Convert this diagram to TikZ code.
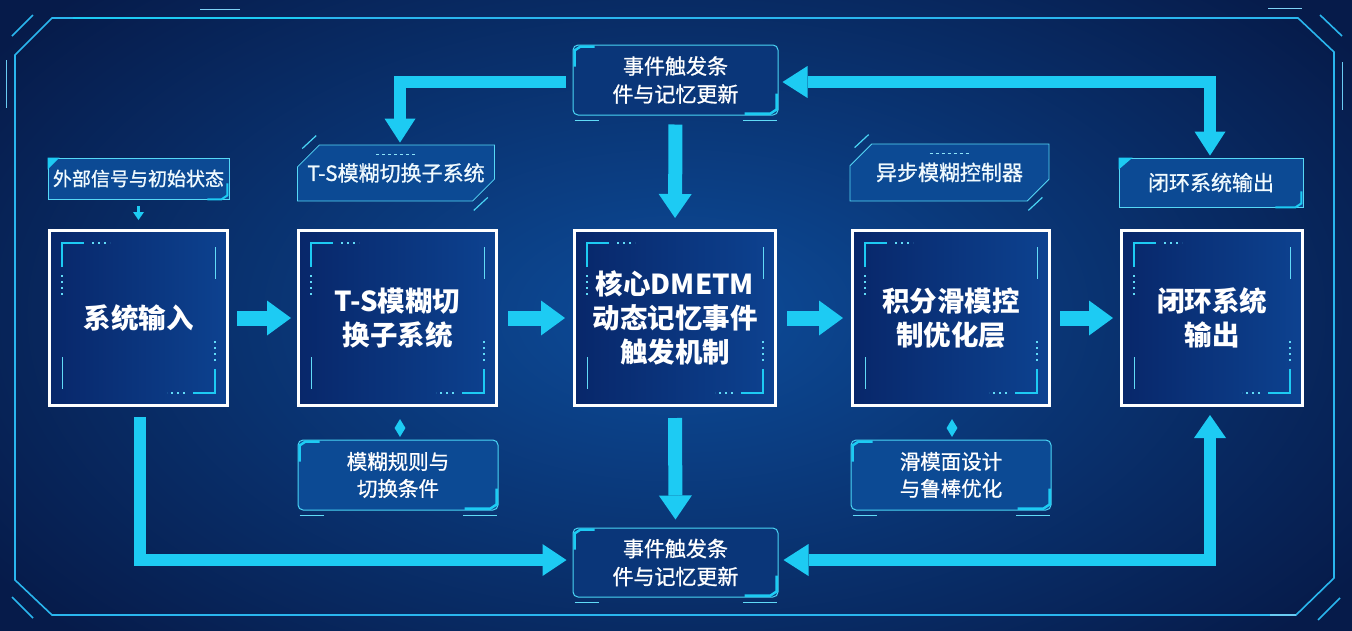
\documentclass[tikz,border=0pt]{standalone}
\usepackage{fontspec}
\setmainfont{Noto Sans CJK SC}
\newfontfamily\lblfont{Noto Sans CJK SC}[FakeBold=0.9]
\usetikzlibrary{arrows.meta,shapes.misc,shapes.geometric,calc}
\definecolor{bgc}{HTML}{0D4C9A}
\definecolor{bgo}{HTML}{061B4A}
\definecolor{cy}{HTML}{1DCBF3}
\definecolor{frm}{HTML}{2AB6EE}
\definecolor{boxa}{HTML}{08276A}
\definecolor{boxb}{HTML}{0D4290}
\definecolor{lbl}{HTML}{0C4A94}
\definecolor{evb}{HTML}{0A3679}
\tikzset{
  mainbox/.style={draw=white, line width=3pt, left color=boxa, right color=boxb,
    text=white, font=\bfseries\fontsize{27.5}{34}\selectfont, align=center, inner sep=0pt},
  lblbox/.style={draw=cy!75!white, line width=0.8pt, fill=lbl, text=white!94!cyan,
    font=\lblfont\fontsize{21}{26}\selectfont, align=center, inner sep=0pt},
  evbox/.style={draw=cy!80!white, line width=1pt, fill=evb, rounded corners=5pt, text=white,
    font=\lblfont\fontsize{21}{28}\selectfont, align=center, inner sep=0pt},
  fat/.style={draw=cy, line width=#1, line join=miter},
  tipA/.style={-{Triangle[length=24pt,width=35pt,line width=0pt]}},
  acc/.style={cy, line width=2.5pt},
  thin/.style={cy!70, line width=1pt},
  dots/.style={cy!70, line width=1.2pt, dash pattern=on 2pt off 4pt},
}
\newcommand\boxacc[1]{%
  \draw[acc] ([shift={(14,38)}]#1.north west) |- ([shift={(36,14)}]#1.north west);
  \draw[dots] ([shift={(44,14)}]#1.north west) -- ++(18,0);
  \draw[dots] ([shift={(14,46)}]#1.north west) -- ++(0,20);
  \draw[thin] ([shift={(-14,18)}]#1.north east) -- ++(0,32);
  \draw[thin] ([shift={(14,-18)}]#1.south west) -- ++(0,-32);
  \draw[acc] ([shift={(-14,-38)}]#1.south east) |- ([shift={(-36,-14)}]#1.south east);
  \draw[dots] ([shift={(-44,-14)}]#1.south east) -- ++(-18,0);
  \draw[dots] ([shift={(-14,-46)}]#1.south east) -- ++(0,-20);
}
\newcommand\evacc[1]{%
  \draw[cy, line width=2.5pt] ([shift={(2,22)}]#1.north west) -- ([shift={(2,6)}]#1.north west) -- ([shift={(8,2)}]#1.north west) -- ([shift={(22,2)}]#1.north west);
  \draw[cy, line width=2.5pt] ([shift={(-2,-22)}]#1.south east) -- ([shift={(-2,-6)}]#1.south east) -- ([shift={(-8,-2)}]#1.south east) -- ([shift={(-34,-2)}]#1.south east);
  \draw[cy!70, line width=1pt] ([shift={(-2,5)}]#1.south east) -- ([shift={(-36,5)}]#1.south east);
  \draw[cy!70, line width=1pt] ([shift={(2,5)}]#1.south west) -- ([shift={(26,5)}]#1.south west);
}
\begin{document}
\begin{tikzpicture}[x=1pt,y=-1pt]
\useasboundingbox (0,0) rectangle (1352,630);
% background
\shade[inner color=bgc, outer color=bgo] (-150,-150) rectangle (1502,780);
% outer frame
\draw[frm, line width=1.6pt, line join=miter] (15,55) -- (52,18) -- (1298,18) -- (1334,52) -- (1334,578) -- (1296,615) -- (52,615) -- (15,580) -- cycle;
\draw[cy, line width=2.6pt] (73,18) -- (320,18);
\draw[frm, line width=1.6pt] (12,36) -- (33,15);
\draw[frm, line width=1.6pt] (12,597) -- (33,618);
\draw[frm, line width=1.6pt] (1320,15) -- (1342,36);
\draw[frm, line width=1.6pt] (1318,620) -- (1340,598);
\draw[frm!70, line width=1pt] (6,60) -- (6,108);
\draw[frm!70, line width=1pt] (1342,62) -- (1342,110);
\draw[frm!60, line width=0.8pt] (200,9) -- (240,9);
\draw[frm!60, line width=0.8pt] (1268,8) -- (1302,8);
\draw[frm!70, line width=1.2pt] (1270,615) -- (1296,615);

% main boxes
\node[mainbox, minimum width=178pt, minimum height=175pt] (b1) at (138.5,318) {系统输入};
\node[mainbox, minimum width=198pt, minimum height=175pt] (b2) at (397.5,318) {T-S模糊切\\换子系统};
\node[mainbox, minimum width=201pt, minimum height=175pt] (b3) at (675,318) {核心DMETM\\动态记忆事件\\触发机制};
\node[mainbox, minimum width=197pt, minimum height=175pt] (b4) at (951,318) {积分滑模控\\制优化层};
\node[mainbox, minimum width=181pt, minimum height=175pt] (b5) at (1212,318) {闭环系统\\输出};
\boxacc{b1}\boxacc{b2}\boxacc{b3}\boxacc{b4}\boxacc{b5}

% top labels
\node[lblbox, font=\lblfont\fontsize{19}{24}\selectfont, minimum width=181pt, minimum height=41pt] (l1) at (138.5,178.5) {外部信号与初始状态};
\node[lblbox, chamfered rectangle, chamfered rectangle corners={north west,south east},
  chamfered rectangle xsep=12pt, chamfered rectangle ysep=12pt, minimum width=196pt, minimum height=56pt] (l2) at (396,173) {T-S模糊切换子系统};
\node[lblbox, chamfered rectangle, chamfered rectangle corners={north west,south east},
  chamfered rectangle xsep=12pt, chamfered rectangle ysep=12pt, minimum width=199pt, minimum height=57pt] (l4) at (949.5,172.5) {异步模糊控制器};
\node[lblbox, minimum width=184pt, minimum height=49pt] (l5) at (1211,182.5) {闭环系统输出};
\fill[cy] (l1.north west) -- ++(12,0) -- ++(-12,12) -- cycle;
\fill[cy] (l5.north west) -- ++(14,0) -- ++(-14,12) -- cycle;
\draw[cy, line width=2pt] ([shift={(-2,-16)}]l1.south east) -- ([shift={(-2,-4)}]l1.south east) -- ([shift={(-8,0)}]l1.south east) -- ([shift={(-22,0)}]l1.south east);
\draw[cy, line width=2pt] ([shift={(-2,-16)}]l5.south east) -- ([shift={(-2,-4)}]l5.south east) -- ([shift={(-8,0)}]l5.south east) -- ([shift={(-28,0)}]l5.south east);
\draw[cy!80, line width=1.2pt] ([shift={(-6,-7)}]l2.north west) -- ([shift={(8,-20)}]l2.north west);
\draw[cy!80, line width=1.2pt] ([shift={(4,7)}]l2.south east) -- ([shift={(-10,20)}]l2.south east);
\draw[cy!80, line width=1.2pt] ([shift={(-6,-7)}]l4.north west) -- ([shift={(8,-20)}]l4.north west);
\draw[cy!80, line width=1.2pt] ([shift={(4,7)}]l4.south east) -- ([shift={(-10,20)}]l4.south east);
\draw[cy!50, line width=1pt, dash pattern=on 3pt off 3pt] ([shift={(-20,10)}]l2.north) -- ++(40,0);
\draw[cy!50, line width=1pt, dash pattern=on 3pt off 3pt] ([shift={(-20,10)}]l4.north) -- ++(40,0);

% event boxes
\node[evbox, minimum width=205pt, minimum height=70pt] (ev1) at (675.5,80) {事件触发条\\件与记忆更新};
\node[evbox, minimum width=205pt, minimum height=69pt] (ev2) at (675.5,562.5) {事件触发条\\件与记忆更新};
\evacc{ev1}\evacc{ev2}

% bottom labels
\node[evbox, fill=lbl, minimum width=200pt, minimum height=70pt, font=\lblfont\fontsize{20.5}{27}\selectfont] (r2) at (398,475) {模糊规则与\\切换条件};
\node[evbox, fill=lbl, minimum width=200pt, minimum height=70pt, font=\lblfont\fontsize{20.5}{27}\selectfont] (r4) at (951,475) {滑模面设计\\与鲁棒优化};
\evacc{r2}\evacc{r4}

% small markers
\node[diamond, fill=cy, inner sep=0pt, minimum width=11pt, minimum height=18pt] (d2) at (400,428) {};
\node[diamond, fill=cy, inner sep=0pt, minimum width=11pt, minimum height=18pt] (d4) at (952,428) {};
\draw[cy, line width=3pt, -{Triangle[length=8pt,width=11pt,line width=0pt]}, shorten <=7pt, shorten >=9pt] (l1.south) -- (b1.north);

% main flow arrows
\draw[fat=15pt, tipA, shorten <=8pt, shorten >=6pt] (b1.east) -- (b2.west);
\draw[fat=15pt, tipA, shorten <=10pt, shorten >=8pt] (b2.east) -- (b3.west);
\draw[fat=15pt, tipA, shorten <=10pt, shorten >=8pt] (b3.east) -- (b4.west);
\draw[fat=15pt, tipA, shorten <=9pt, shorten >=7pt] (b4.east) -- (b5.west);

% vertical center arrows
\draw[fat=14pt, -{Triangle[length=24pt,width=33pt,line width=0pt]}, shorten <=9pt, shorten >=11pt] (ev1.south) -- (b3.north);
\draw[fat=14pt, -{Triangle[length=24pt,width=33pt,line width=0pt]}, shorten <=11pt, shorten >=8pt] (b3.south) -- (ev2.north);

% feedback loops
\coordinate (tl) at (400,82);
\coordinate (tr) at (1210,82);
\coordinate (bl) at (140,560);
\coordinate (br) at (1210,560);
\draw[fat=12pt, -{Triangle[length=24pt,width=31pt,line width=0pt]}, shorten <=7pt, shorten >=2pt] (ev1.west |- tl) -- (tl) -- (tl |- l2.north);
\draw[fat=12pt, {Triangle[length=25pt,width=32pt,line width=0pt]}-{Triangle[length=24pt,width=31pt,line width=0pt]}, shorten <=4pt, shorten >=2pt] (ev1.east |- tr) -- (tr) -- (tr |- l5.north);
\draw[fat=12pt, -{Triangle[length=24pt,width=32pt,line width=0pt]}, shorten <=10pt, shorten >=6pt] (b1.south -| bl) -- (bl) -- (bl -| ev2.west);
\draw[fat=12pt, {Triangle[length=25pt,width=32pt,line width=0pt]}-{Triangle[length=23pt,width=32pt,line width=0pt]}, shorten <=5pt, shorten >=8pt] (ev2.east |- br) -- (br) -- (br |- b5.south);
\end{tikzpicture}
\end{document}
